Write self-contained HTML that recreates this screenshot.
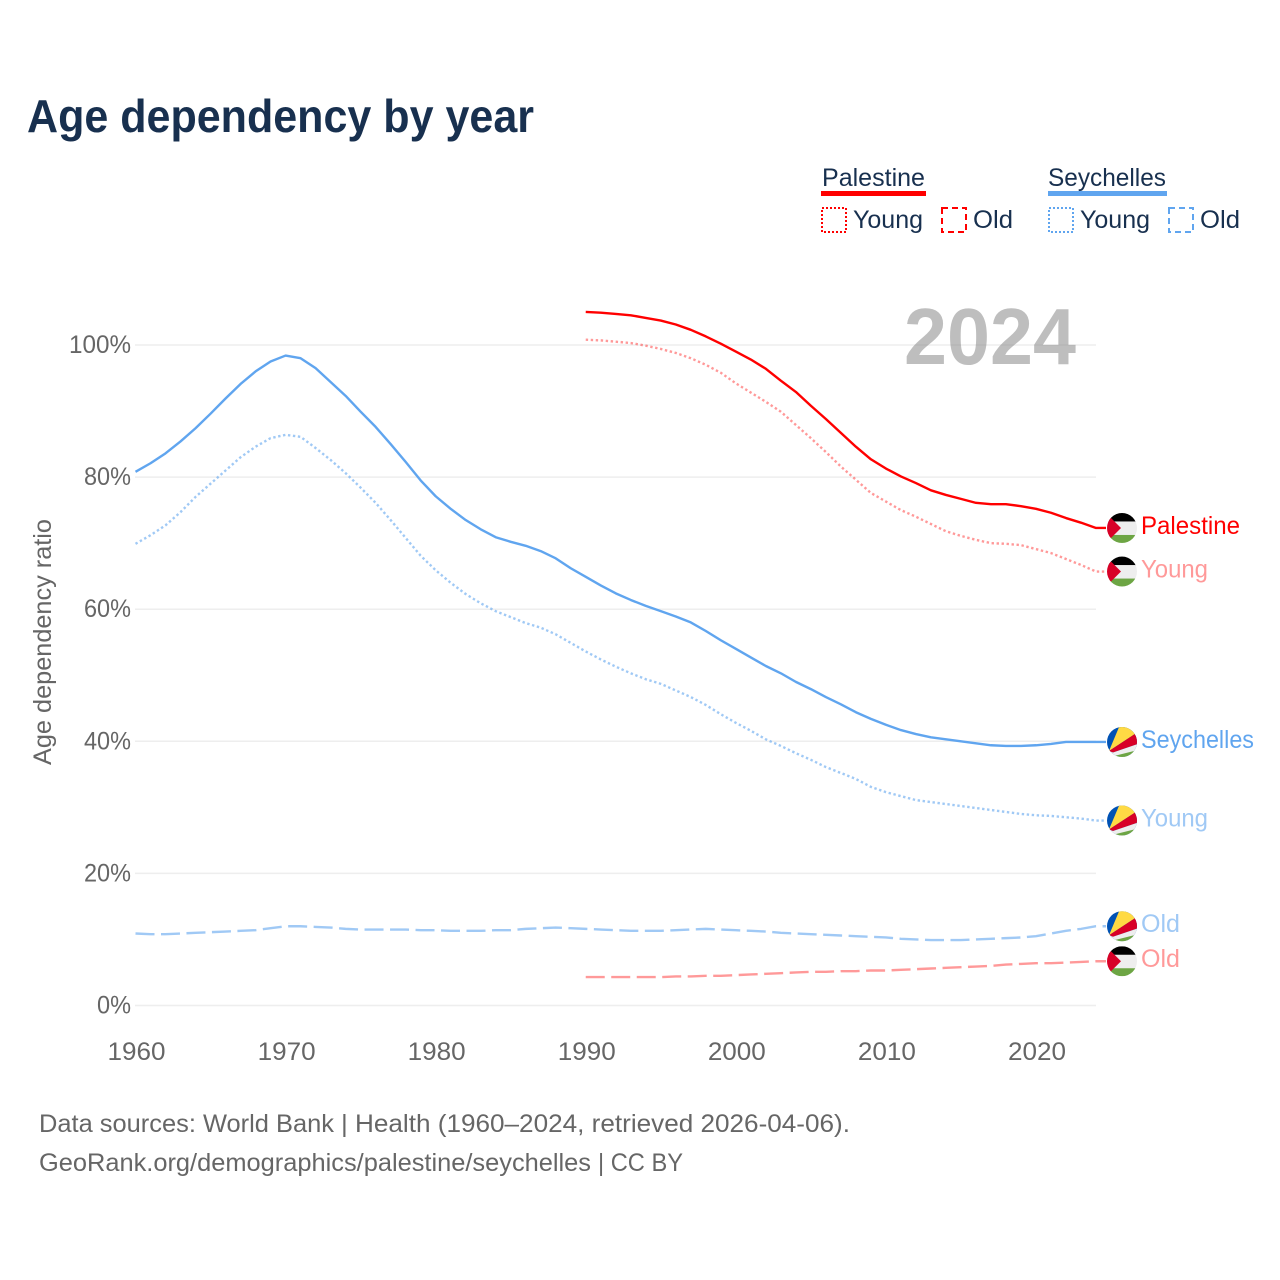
<!DOCTYPE html>
<html lang="en">
<head>
<meta charset="utf-8">
<title>Age dependency by year</title>
<style>
html,body{margin:0;padding:0;background:#fff}
svg{display:block}
text{font-family:"Liberation Sans",sans-serif}
</style>
</head>
<body>
<svg id="chart" xmlns="http://www.w3.org/2000/svg" width="1280" height="1280" viewBox="0 0 1280 1280">
<defs>
<clipPath id="flag-clip"><circle cx="0" cy="0" r="15"/></clipPath>
<g id="flag-palestine" clip-path="url(#flag-clip)">
<rect x="-15" y="-15" width="30" height="9" fill="#000"/>
<rect x="-15" y="-6.5" width="30" height="14" fill="#eee"/>
<rect x="-15" y="7" width="30" height="8" fill="#6da544"/>
<polygon points="-20,-19 -1,0 -20,19" fill="#d80027"/>
</g>
<g id="flag-seychelles" clip-path="url(#flag-clip)">
<rect x="-15" y="-15" width="30" height="30" fill="#0052b4"/>
<polygon points="-13,9 -2.5,-16 16,-16 16,-10" fill="#ffda44"/>
<polygon points="-13,9 -9,10.5 16,2 16,-10" fill="#d80027"/>
<polygon points="-13,9 -9,10.5 16,2 16,16 -13,16" fill="#eee"/>
<polygon points="-8,14 16,8 16,16 -8,16" fill="#6da544"/>
</g>
</defs>
<text x="27" y="132" font-size="46" font-weight="700" fill="#18304f" textLength="507" lengthAdjust="spacingAndGlyphs">Age dependency by year</text>

<g>
<g>
<text x="822" y="186" font-size="25" fill="#18304f" textLength="103" lengthAdjust="spacingAndGlyphs">Palestine</text>
<rect x="821" y="191" width="105" height="5" fill="#ff0000"/>
<rect x="822" y="208" width="24" height="24" fill="none" stroke="#ff0000" stroke-width="2" stroke-dasharray="2 2"/>
<text x="853" y="228" font-size="25" fill="#18304f" textLength="70" lengthAdjust="spacingAndGlyphs">Young</text>
<rect x="942" y="208" width="24" height="24" fill="none" stroke="#ff0000" stroke-width="2" stroke-dasharray="6 4"/>
<text x="973" y="228" font-size="25" fill="#18304f" textLength="40" lengthAdjust="spacingAndGlyphs">Old</text>
</g>
<g>
<text x="1048" y="186" font-size="25" fill="#18304f" textLength="118" lengthAdjust="spacingAndGlyphs">Seychelles</text>
<rect x="1048" y="191" width="119" height="5" fill="#60a5ef"/>
<rect x="1049" y="208" width="24" height="24" fill="none" stroke="#60a5ef" stroke-width="2" stroke-dasharray="2 2"/>
<text x="1080" y="228" font-size="25" fill="#18304f" textLength="70" lengthAdjust="spacingAndGlyphs">Young</text>
<rect x="1169" y="208" width="24" height="24" fill="none" stroke="#60a5ef" stroke-width="2" stroke-dasharray="6 4"/>
<text x="1200" y="228" font-size="25" fill="#18304f" textLength="40" lengthAdjust="spacingAndGlyphs">Old</text>
</g>
</g>

<g id="grid"></g>
<g id="ylabels"></g>
<g id="xlabels"></g>
<text transform="translate(51,642) rotate(-90)" text-anchor="middle" font-size="25" fill="#666" textLength="246" lengthAdjust="spacingAndGlyphs">Age dependency ratio</text>
<text x="904" y="364" font-size="80" font-weight="700" fill="#888" fill-opacity="0.55" textLength="172" lengthAdjust="spacingAndGlyphs">2024</text>
<g id="series"></g>
<g id="ends"></g>

<text x="39" y="1132" font-size="25" fill="#666" textLength="295" lengthAdjust="spacingAndGlyphs">Data sources: World Bank</text>
<text x="341" y="1132" font-size="25" fill="#666" textLength="509" lengthAdjust="spacingAndGlyphs">| Health (1960–2024, retrieved 2026-04-06).</text>
<text x="39" y="1171" font-size="25" fill="#666" textLength="552" lengthAdjust="spacingAndGlyphs">GeoRank.org/demographics/palestine/seychelles</text>
<text x="598" y="1171" font-size="25" fill="#666" textLength="85" lengthAdjust="spacingAndGlyphs">| CC BY</text>
</svg>
<script>
const yTicks = [0, 20, 40, 60, 80, 100];
const xTicks = [1960, 1970, 1980, 1990, 2000, 2010, 2020];
const seychellesStart = 1960;
const palestineStart = 1990;
const seychellesTotal = [80.8,82.1,83.6,85.4,87.4,89.6,91.9,94.1,96.0,97.5,98.4,98.0,96.5,94.4,92.3,89.9,87.6,85.0,82.3,79.5,77.1,75.2,73.5,72.1,70.9,70.2,69.6,68.8,67.7,66.2,64.9,63.6,62.4,61.4,60.5,59.7,58.9,58.0,56.7,55.3,54.0,52.7,51.4,50.3,49.0,47.9,46.7,45.6,44.4,43.4,42.5,41.7,41.1,40.6,40.3,40.0,39.7,39.4,39.3,39.3,39.4,39.6,39.9,39.9,39.9];
const seychellesYoung = [69.9,71.2,72.7,74.7,77.0,79.0,81.0,83.0,84.6,85.9,86.4,86.1,84.4,82.6,80.6,78.4,76.1,73.5,70.8,68.1,65.9,64.0,62.3,60.9,59.7,58.8,57.9,57.2,56.2,54.9,53.6,52.4,51.3,50.3,49.4,48.7,47.7,46.7,45.5,44.1,42.8,41.6,40.3,39.3,38.2,37.2,36.1,35.2,34.3,33.1,32.3,31.7,31.1,30.8,30.5,30.2,29.9,29.6,29.3,29.0,28.8,28.7,28.5,28.3,28.0];
const seychellesOld = [10.9,10.8,10.8,10.9,11.0,11.1,11.2,11.3,11.4,11.7,12.0,12.0,11.9,11.8,11.6,11.5,11.5,11.5,11.5,11.4,11.4,11.3,11.3,11.3,11.4,11.4,11.6,11.7,11.8,11.7,11.6,11.5,11.4,11.3,11.3,11.3,11.4,11.5,11.6,11.5,11.4,11.3,11.2,11.0,10.9,10.8,10.7,10.6,10.5,10.4,10.3,10.1,10.0,9.9,9.9,9.9,10.0,10.1,10.2,10.3,10.5,10.9,11.3,11.6,12.0];
const palestineTotal = [105.0,104.9,104.7,104.5,104.1,103.7,103.1,102.3,101.3,100.2,99.0,97.8,96.4,94.6,92.9,90.8,88.8,86.7,84.6,82.7,81.3,80.1,79.1,78.0,77.3,76.7,76.1,75.9,75.9,75.6,75.2,74.6,73.8,73.1,72.3];
const palestineYoung = [100.8,100.7,100.5,100.3,99.9,99.4,98.8,98.0,97.0,95.8,94.2,92.8,91.4,89.9,87.9,85.9,83.8,81.6,79.6,77.6,76.3,75.0,74.0,72.9,71.8,71.1,70.5,70.0,69.9,69.7,69.1,68.5,67.6,66.7,65.7];
const palestineOld = [4.3,4.3,4.3,4.3,4.3,4.3,4.4,4.4,4.5,4.5,4.6,4.7,4.8,4.9,5.0,5.1,5.1,5.2,5.2,5.3,5.3,5.4,5.5,5.6,5.7,5.8,5.9,6.0,6.2,6.3,6.4,6.4,6.5,6.6,6.7];

function xScale(year) { return 135.5 + (year - 1960) * (1096 - 135.5) / 64; }
function yScale(v) { return 1005.5 - v * 6.605; }

const NS = 'http://www.w3.org/2000/svg';
function make(parent, tag, attrs, text) {
  const el = document.createElementNS(NS, tag);
  for (const k in attrs) el.setAttribute(k, attrs[k]);
  if (text !== undefined) el.textContent = text;
  parent.appendChild(el);
  return el;
}

const gridG = document.getElementById('grid');
const yLabG = document.getElementById('ylabels');
const xLabG = document.getElementById('xlabels');
const seriesG = document.getElementById('series');
const endsG = document.getElementById('ends');

yTicks.forEach(function (t) {
  const line = make(gridG, 'line', { x1: 135, x2: 1096, y1: yScale(t), y2: yScale(t), stroke: '#eee', 'stroke-width': 1.5 });
  
  
  const len = t === 100 ? 62 : (t === 0 ? 34 : 47);
  const lab = make(yLabG, 'text', { x: 131, y: yScale(t) + 8, 'text-anchor': 'end', 'font-size': 25, fill: '#666', textLength: len, lengthAdjust: 'spacingAndGlyphs' }, t + '%');
  
  
});

xTicks.forEach(function (t) {
  const lab = make(xLabG, 'text', { x: xScale(t) + 1, y: 1060, 'text-anchor': 'middle', 'font-size': 25, fill: '#666', textLength: 58, lengthAdjust: 'spacingAndGlyphs' }, String(t));
  
  
});

function drawSeries(name, values, start, color, opacity, dash, flag, label, labelLen) {
  const pts = values.map(function (v, i) { return xScale(start + i).toFixed(2) + ',' + yScale(v).toFixed(2); });
  const last = values[values.length - 1];
  const endY = yScale(last);
  pts.push('1106,' + endY.toFixed(2));
  const line = make(seriesG, 'polyline', { points: pts.join(' '), fill: 'none', stroke: color, 'stroke-opacity': opacity, 'stroke-width': 2.4, 'stroke-linejoin': 'round' });
  if (dash) line.setAttribute('stroke-dasharray', dash);
  
  
  const fl = make(endsG, 'use', { href: '#' + flag, transform: 'translate(1122,' + endY.toFixed(2) + ')' });
  
  
  const tx = make(endsG, 'text', { x: 1141, y: endY + 6, 'font-size': 25, fill: color, 'fill-opacity': opacity, textLength: labelLen, lengthAdjust: 'spacingAndGlyphs' }, label);
  
  
}

drawSeries('seychelles-total', seychellesTotal, seychellesStart, '#60a5ef', 1, null, 'flag-seychelles', 'Seychelles', 113);
drawSeries('seychelles-young', seychellesYoung, seychellesStart, '#60a5ef', 0.6, '2.4 2.6', 'flag-seychelles', 'Young', 67);
drawSeries('seychelles-old', seychellesOld, seychellesStart, '#60a5ef', 0.6, '19 6.5', 'flag-seychelles', 'Old', 39);
drawSeries('palestine-total', palestineTotal, palestineStart, '#ff0000', 1, null, 'flag-palestine', 'Palestine', 99);
drawSeries('palestine-young', palestineYoung, palestineStart, '#ff0000', 0.4, '2.4 2.6', 'flag-palestine', 'Young', 67);
drawSeries('palestine-old', palestineOld, palestineStart, '#ff0000', 0.4, '19 6.5', 'flag-palestine', 'Old', 39);
</script>
</body>
</html>
